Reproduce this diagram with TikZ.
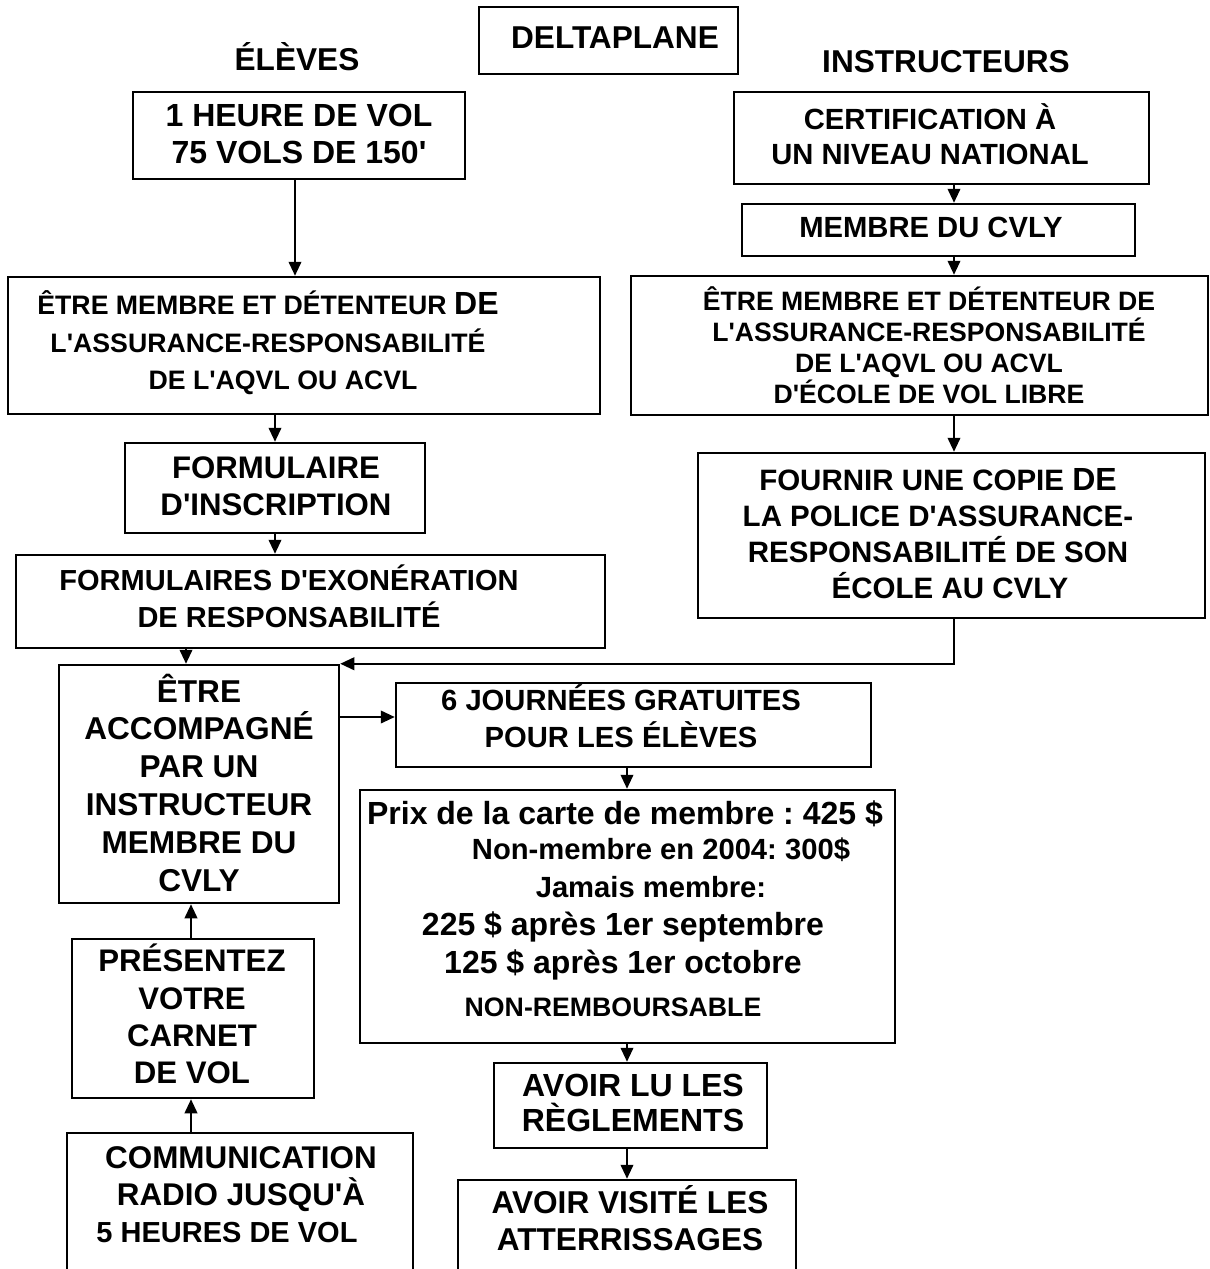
\documentclass[tikz,border=0pt]{standalone}
\usepackage{fontspec}
\setmainfont{Liberation Sans}
\usetikzlibrary{arrows.meta}
\usetikzlibrary{fit}
\newcommand{\qt}{\textquotesingle}
\frenchspacing
\tikzset{
    box/.style={draw, line width=1.25pt, inner sep=0pt},
    big/.style={align=center, inner sep=0pt, font=\bfseries\fontsize{15.8}{18.6}\selectfont},
    mid/.style={align=center, inner sep=0pt, font=\bfseries\fontsize{14.6}{18.3}\selectfont},
    small/.style={align=center, inner sep=0pt, font=\bfseries\fontsize{13.35}{18.75}\selectfont},
    arr/.style={line width=1pt, -{Triangle[length=7pt,width=6.3pt]}}
}

\begin{document}
\begin{tikzpicture}[x=0.5pt,y=-0.5pt]
            \useasboundingbox (0,0) rectangle (1210,1269);
            \clip (0,0) rectangle (1210,1269);
            \fill[white] (0,0) rectangle (1210,1269);

            \node[box, fit={(479,7) (738,74)}] (titre) {};
            \node[box, fit={(133,92) (465,179)}] (heure) {};
            \node[box, fit={(8,277) (600,414)}] (membreG) {};
            \node[box, fit={(125,443) (425,533)}] (formulaire) {};
            \node[box, fit={(16,555) (605,648)}] (exon) {};
            \node[box, fit={(59,665) (339,903)}] (accomp) {};
            \node[box, fit={(72,939) (314,1098)}] (presentez) {};
            \node[box, fit={(67,1133) (413,1300)}] (comm) {};
            \node[box, fit={(734,92) (1149,184)}] (certif) {};
            \node[box, fit={(742,204) (1135,256)}] (membreD) {};
            \node[box, fit={(631,276) (1208,415)}] (membreI) {};
            \node[box, fit={(698,453) (1205,618)}] (fournir) {};
            \node[box, fit={(396,683) (871,767)}] (journees) {};
            \node[box, fit={(360,790) (895,1043)}] (prix) {};
            \node[box, fit={(494,1063) (767,1148)}] (avoirlu) {};
            \node[box, fit={(458,1180) (796,1300)}] (visite) {};

            \node[big] (titre-t) at (615,38) {DELTAPLANE};
            \node[big] (eleves) at (297,57) {ÉLÈVES};
            \node[big] (instr) at (946,62) {INSTRUCTEURS};

            \node[big, font=\bfseries\fontsize{16}{18.5}\selectfont] (heure-t) at (299,133.5) {1 HEURE DE VOL\\75 VOLS DE 150\qt};
            \node[small] (membreG-t) at (268,343) {ÊTRE MEMBRE ET DÉTENTEUR {\fontsize{16}{18}\selectfont DE}\\L\qt ASSURANCE-RESPONSABILITÉ\\\hspace*{15pt}DE L\qt AQVL OU ACVL};
            \node[big, font=\bfseries\fontsize{15.6}{18.5}\selectfont] (formulaire-t) at (276,486.5) {FORMULAIRE\\D\qt INSCRIPTION};
            \node[mid, font=\bfseries\fontsize{14.5}{18.5}\selectfont] (exon-t) at (289,596.5) {FORMULAIRES D\qt EXONÉRATION\\DE RESPONSABILITÉ};
            \node[big, font=\bfseries\fontsize{15.8}{18.9}\selectfont] (accomp-t) at (199,782.5) {ÊTRE\\ACCOMPAGNÉ\\PAR UN\\INSTRUCTEUR\\MEMBRE DU\\CVLY};
            \node[big, font=\bfseries\fontsize{15.6}{18.6}\selectfont] (presentez-t) at (192,1014) {PRÉSENTEZ\\VOTRE\\CARNET\\DE VOL};
            \node[big, font=\bfseries\fontsize{15.7}{18.5}\selectfont] (comm-t) at (241,1195) {COMMUNICATION\\RADIO JUSQU\qt À\\{\fontsize{14.5}{18.5}\selectfont 5 HEURES DE VOL}\hspace*{14pt}};

            \node[mid, font=\bfseries\fontsize{14.6}{17.5}\selectfont] (certif-t) at (930,134.5) {CERTIFICATION À\\UN NIVEAU NATIONAL};
            \node[mid] (membreD-t) at (931,227) {MEMBRE DU CVLY};
            \node[small, font=\bfseries\fontsize{13.3}{15.5}\selectfont] (membreI-t) at (929,345) {ÊTRE MEMBRE ET DÉTENTEUR DE\\L\qt ASSURANCE-RESPONSABILITÉ\\DE L\qt AQVL OU ACVL\\D\qt ÉCOLE DE VOL LIBRE};
            \node[mid, font=\bfseries\fontsize{14.75}{18}\selectfont] (fournir-t) at (938,534) {FOURNIR UNE COPIE {\fontsize{16}{18}\selectfont DE}\\LA POLICE D\qt ASSURANCE-\\RESPONSABILITÉ DE SON\\\hspace*{12pt}ÉCOLE AU CVLY};
            \node[mid, font=\bfseries\fontsize{14.6}{18.5}\selectfont] (journees-t) at (621,716.5) {6 JOURNÉES GRATUITES\\POUR LES ÉLÈVES};

            \node[big, font=\bfseries\fontsize{16}{18}\selectfont, anchor=base] (p1) at (625,824.5) {Prix de la carte de membre : 425 \$};
            \node[mid, anchor=base] (p2) at (661,859.5) {Non-membre en 2004: 300\$};
            \node[mid, anchor=base] (p3) at (651,897.5) {Jamais membre:};
            \node[big, font=\bfseries\fontsize{16}{18}\selectfont, anchor=base] (p4) at (623,935.5) {225 \$ après 1er septembre};
            \node[big, font=\bfseries\fontsize{16}{18}\selectfont, anchor=base] (p5) at (623,973.5) {125 \$ après 1er octobre};
            \node[small, anchor=base] (p6) at (613,1016.5) {NON-REMBOURSABLE};

            \node[big, font=\bfseries\fontsize{16}{17.5}\selectfont] (avoirlu-t) at (633,1102.5) {AVOIR LU LES\\RÈGLEMENTS};
            \node[big, font=\bfseries\fontsize{15.8}{18.5}\selectfont] (visite-t) at (630,1218.5) {AVOIR VISITÉ LES\\ATTERRISSAGES};

            \coordinate (hc) at (295,0);
            \coordinate (lc) at (191,0);
            \coordinate (ec) at (186,0);
            \coordinate (mc) at (627,0);
            \coordinate (rc) at (954,0);

            \draw[arr] (heure.south -| hc) -- (membreG.north -| hc);
            \draw[arr] (formulaire.north |- membreG.south) -- (formulaire.north);
            \draw[arr] (formulaire.south) -- (formulaire.south |- exon.north);
            \draw[arr] (exon.south -| ec) -- (accomp.north -| ec);
            \draw[arr] (presentez.north -| lc) -- (accomp.south -| lc);
            \draw[arr] (comm.north -| lc) -- (presentez.south -| lc);

            \draw[arr] (certif.south -| rc) -- (membreD.north -| rc);
            \draw[arr] (membreD.south -| rc) -- (membreI.north -| rc);
            \draw[arr] (membreI.south -| rc) -- (fournir.north -| rc);
            \draw[arr] (fournir.south -| rc) |- (accomp.north east);

            \draw[arr] ([yshift=4pt]accomp.east |- journees.west) -- ([yshift=4pt]journees.west);
            \draw[arr] (journees.south -| mc) -- (prix.north -| mc);
            \draw[arr] (prix.south -| mc) -- (avoirlu.north -| mc);
            \draw[arr] (avoirlu.south -| mc) -- (visite.north -| mc);
\end{tikzpicture}
\end{document}
